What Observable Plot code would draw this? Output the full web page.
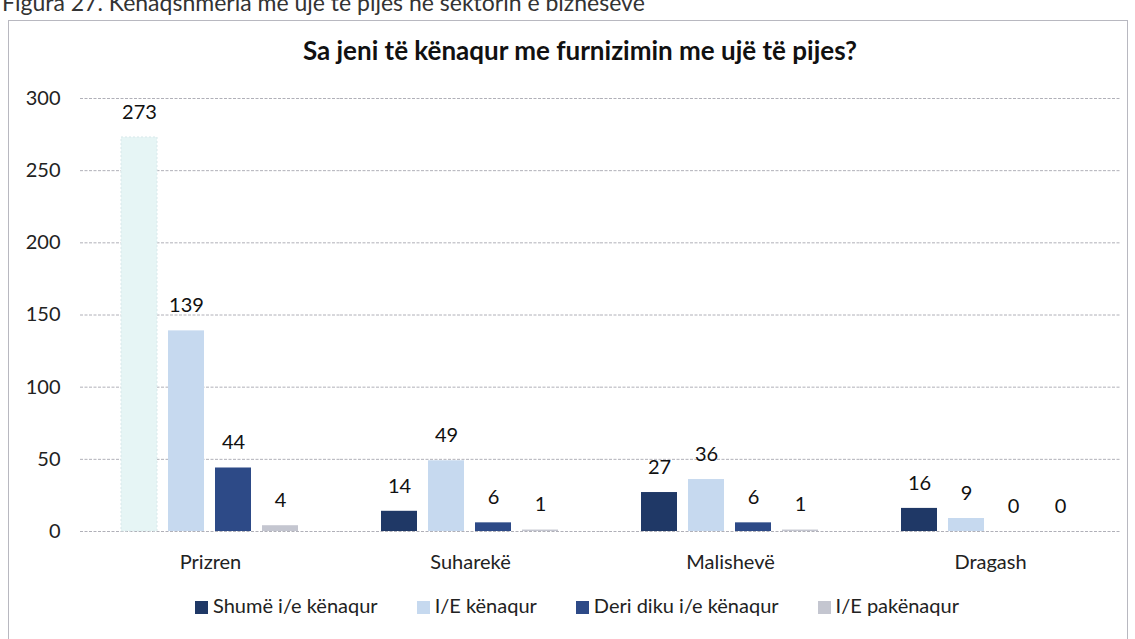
<!DOCTYPE html>
<html>
<head>
<meta charset="utf-8">
<script src="https://cdn.jsdelivr.net/npm/d3@7"></script>
<script src="https://cdn.jsdelivr.net/npm/@observablehq/plot@0.6"></script>
<style>
  html, body { margin: 0; padding: 0; background: #fff; }
  body { width: 1135px; height: 639px; position: relative; overflow: hidden; font-family: Lato, "Open Sans", sans-serif; }
  #caption { position: absolute; left: 2px; top: -12px; font-size: 23px; color: #333; white-space: nowrap; }
  #frame { position: absolute; left: 8px; top: 20px; width: 1120px; height: 640px; border: 1px solid #b8b8c0; box-sizing: border-box; }
  #title { position: absolute; left: 0; width: 1160px; top: 34px; text-align: center; font-size: 26px; font-weight: bold; color: #111; }
  #chart { position: absolute; left: 0; top: 78px; }
  #legend { position: absolute; left: 195px; top: 593px; display: flex; gap: 39px; font-size: 20px; color: #222; white-space: nowrap; }
  #legend span.sw { display: inline-block; width: 13px; height: 13px; margin-right: 5px; vertical-align: -1px; }
</style>
</head>
<body>
<div id="caption">Figura 27. Kënaqshmëria me ujë të pijes në sektorin e bizneseve</div>
<div id="frame"></div>
<div id="title">Sa jeni të kënaqur me furnizimin me ujë të pijes?</div>
<div id="chart"></div>
<div id="legend"></div>
<script>
const cities = ["Prizren", "Suharekë", "Malishevë", "Dragash"];
const seriesNames = ["Shumë i/e kënaqur", "I/E kënaqur", "Deri diku i/e kënaqur", "I/E pakënaqur"];
const shumeKenaqur = [273, 14, 27, 16];
const kenaqur = [139, 49, 36, 9];
const deriDiku = [44, 6, 6, 0];
const pakenaqur = [4, 1, 1, 0];
const yTicks = [0, 50, 100, 150, 200, 250, 300];
const seriesColors = ["#1f3866", "#c6d9ef", "#2d4a87", "#c4c6d0"];
const fadedColor = "#e6f5f5"; // scanned-out first bar in Prizren

const seriesValues = [shumeKenaqur, kenaqur, deriDiku, pakenaqur];
const data = [];
cities.forEach((c, i) => {
  seriesNames.forEach((s, j) => {
    data.push({city: c, series: s, value: seriesValues[j][i], si: j, ci: i});
  });
});

const fillFor = d => (d.ci === 0 && d.si === 0) ? fadedColor : seriesColors[d.si];

const plot = Plot.plot({
  width: 1135,
  height: 500,
  marginLeft: 80,
  marginRight: 15,
  marginTop: 20,
  marginBottom: 47,
  style: { fontFamily: "Lato, 'Open Sans', sans-serif", fontSize: "20px", color: "#222", background: "transparent" },
  fx: { domain: cities, padding: 0, label: null, axis: "bottom", tickSize: 0, tickPadding: 23 },
  x: { domain: seriesNames, paddingInner: 0.23, paddingOuter: 0.88, axis: null },
  y: { domain: [0, 300], ticks: yTicks, label: null, tickSize: 0, tickPadding: 20 },
  marks: [
    Plot.ruleY(yTicks, { stroke: "#b0b0b8", strokeWidth: 1, strokeDasharray: "3,1.5" }),
    Plot.barY(data, { fx: "city", x: "series", y: "value", fill: fillFor, stroke: d => d.ci === 0 && d.si === 0 ? "#d8e8ea" : "none", strokeDasharray: "2,2" }),
    Plot.text(data, { fx: "city", x: "series", y: "value", text: d => String(d.value), dy: -25, fill: "#111", fontSize: 20 })
  ]
});
document.getElementById("chart").appendChild(plot);

const legend = document.getElementById("legend");
seriesNames.forEach((s, j) => {
  const item = document.createElement("div");
  const sw = document.createElement("span");
  sw.className = "sw";
  sw.style.background = seriesColors[j];
  item.appendChild(sw);
  item.appendChild(document.createTextNode(s));
  legend.appendChild(item);
});
</script>
</body>
</html>
